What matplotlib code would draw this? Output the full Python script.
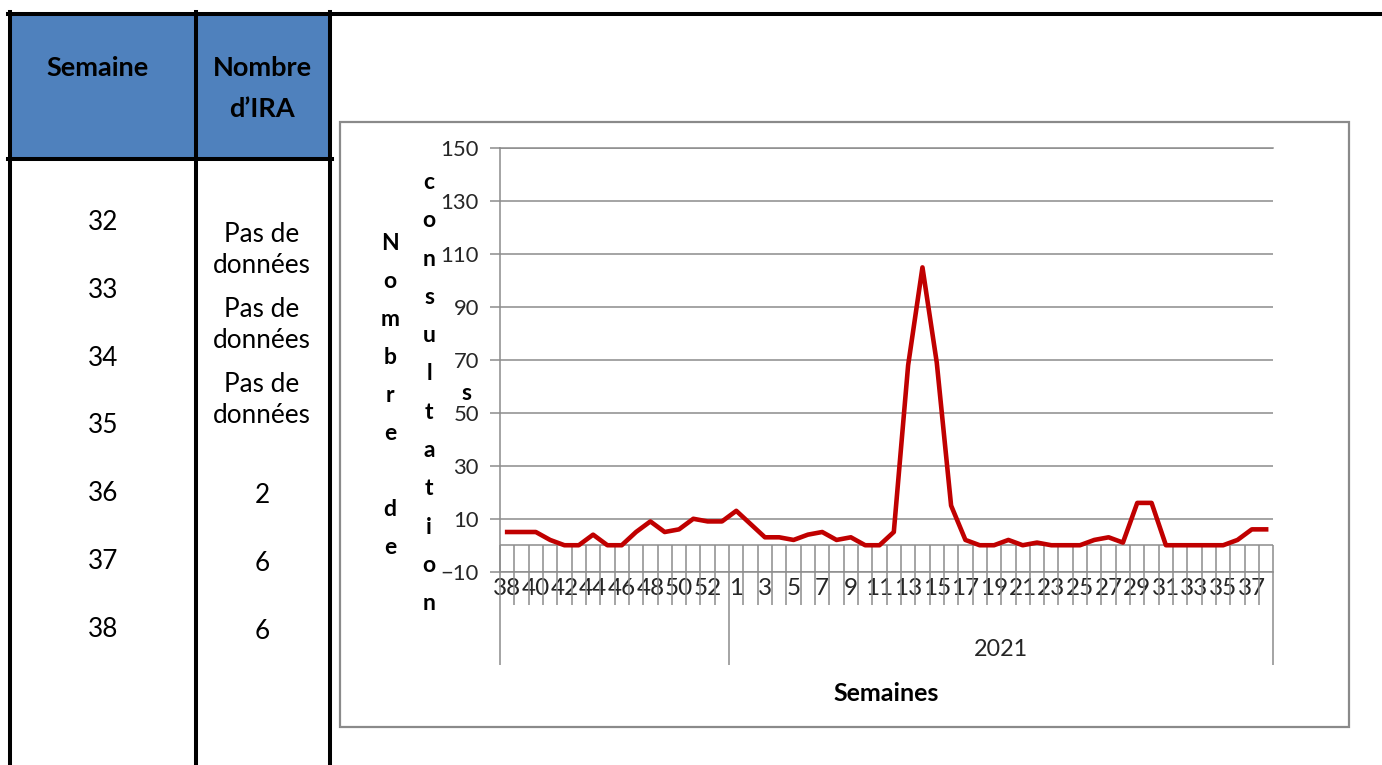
import matplotlib.pyplot as plt
from matplotlib.lines import Line2D
from matplotlib.patches import Rectangle

plt.rcParams['font.family'] = ['Lato', 'DejaVu Sans']

W, H = 1382, 765

# --- data ---
table_weeks = ['32', '33', '34', '35', '36', '37', '38']
table_ira = ['Pas de données', 'Pas de données', 'Pas de données', '2', '6', '6']

weeks_2020 = list(range(38, 54))
weeks_2021 = list(range(1, 39))
weeks = [str(w) for w in weeks_2020 + weeks_2021]
values = [5, 5, 5, 2, 0, 0, 4, 0, 0, 5, 9, 5, 6, 10, 9, 9,
          13, 8, 3, 3, 2, 4, 5, 2, 3, 0, 0, 5, 68, 105, 69, 15, 2, 0, 0, 2,
          0, 1, 0, 0, 0, 2, 3, 1, 16, 16, 0, 0, 0, 0, 0, 2, 6, 6]
year_label = '2021'

fig = plt.figure(figsize=(W / 100, H / 100), dpi=100)


def fx(x):
    return x / W


def fy(y):
    return 1 - y / H


def hline(x0, x1, y, lw=2.9, color='black'):
    fig.add_artist(Line2D([fx(x0), fx(x1)], [fy(y), fy(y)], lw=lw, color=color))


def vline(x, y0, y1, lw=2.9, color='black'):
    fig.add_artist(Line2D([fx(x), fx(x)], [fy(y0), fy(y1)], lw=lw, color=color))


# --- table on the left ---
fig.add_artist(Rectangle((fx(12), fy(157)), fx(316), 141 / H, color='#4F81BD', lw=0))
hline(8, W, 14)
hline(8, 332, 158.5)
for xv in [10, 196, 330]:
    vline(xv, 12, H)

fig.text(fx(97.5), fy(76), 'Semaine', ha='center', va='baseline', fontsize=19.5, fontweight='bold')
fig.text(fx(262.5), fy(76), 'Nombre', ha='center', va='baseline', fontsize=19.5, fontweight='bold')
fig.text(fx(262.5), fy(116.7), 'd\u2019IRA', ha='center', va='baseline', fontsize=19.5, fontweight='bold')

for k, w in enumerate(table_weeks):
    fig.text(fx(103), fy(230 + 67.8 * k), w, ha='center', va='baseline', fontsize=18.8)

k_num = 0
for k, v in enumerate(table_ira):
    if ' ' in v:
        words = v.split(' ')
        fig.text(fx(262), fy(241.7 + 75 * k), words[0] + ' ' + words[1], ha='center',
                 va='baseline', fontsize=18.8)
        fig.text(fx(262), fy(272.7 + 75 * k), words[2], ha='center', va='baseline', fontsize=18.8)
    else:
        fig.text(fx(262), fy(503.3 + 67.8 * k_num), v, ha='center', va='baseline', fontsize=18.8)
        k_num += 1

# --- chart frame ---
fig.add_artist(Rectangle((fx(340), fy(727.3)), (1349.3 - 340) / W, (727.3 - 122.3) / H,
                         fill=False, edgecolor='#8a8a8a', lw=1.6))

# --- chart ---
grey = '#8c8c8c'
ax = fig.add_axes([fx(500), fy(571.7), 773.3 / W, 423.4 / H])
ax.set_facecolor('none')
x = list(range(len(weeks)))
ax.plot(x, values, color='#C00000', lw=3.3, solid_joinstyle='round', zorder=5)
ax.set_xlim(-0.5, len(weeks) - 0.5)
ax.set_ylim(-10, 150)
ax.set_yticks(range(-10, 151, 20))
ax.grid(axis='y', color=grey, lw=1.1)
ax.set_axisbelow(True)
ax.spines['right'].set_visible(False)
for s in ['left', 'bottom', 'top']:
    ax.spines[s].set_color(grey)
    ax.spines[s].set_linewidth(1.1)
ax.axhline(0, color=grey, lw=1.1, zorder=1)

ax.tick_params(axis='y', length=7.2, width=1.1, color=grey, pad=8,
               labelsize=15.8, labelcolor='#262626')
ax.set_xticks(x[::2])
ax.set_xticklabels(weeks[::2])
ax.tick_params(axis='x', length=0, pad=4.5, labelsize=17.5, labelcolor='#262626')

# category dividers
tr = ax.get_xaxis_transform()
n2020 = len(weeks_2020)
minor = [i - 0.5 for i in range(1, len(weeks)) if i != n2020]
ax.vlines(minor, -0.0787, 0.0625, transform=tr, color=grey, lw=1.1, clip_on=False)
ax.vlines([-0.5, n2020 - 0.5, len(weeks) - 0.5], -0.2204, 0.0625, transform=tr,
          color=grey, lw=1.1, clip_on=False)
ax.text((n2020 - 0.5 + len(weeks) - 0.5) / 2, -0.199, year_label, transform=tr,
        ha='center', va='baseline', fontsize=16.8, color='#262626')
ax.text(0.5, -0.3047, 'Semaines', transform=ax.transAxes, ha='center', va='baseline',
        fontsize=18, fontweight='bold')

# stacked y-axis title
for k, ch in enumerate('Nombre de'):
    fig.text(fx(390), fy(250 + 38.0 * k), ch, ha='center', va='baseline',
             fontsize=16.5, fontweight='bold')
for k, ch in enumerate('consultation'):
    fig.text(fx(429), fy(189 + 38.3 * k), ch, ha='center', va='baseline',
             fontsize=16.5, fontweight='bold')
fig.text(fx(466), fy(400.5), 's', ha='center', va='baseline', fontsize=16.5, fontweight='bold')

fig.savefig('out.png', dpi=100)
